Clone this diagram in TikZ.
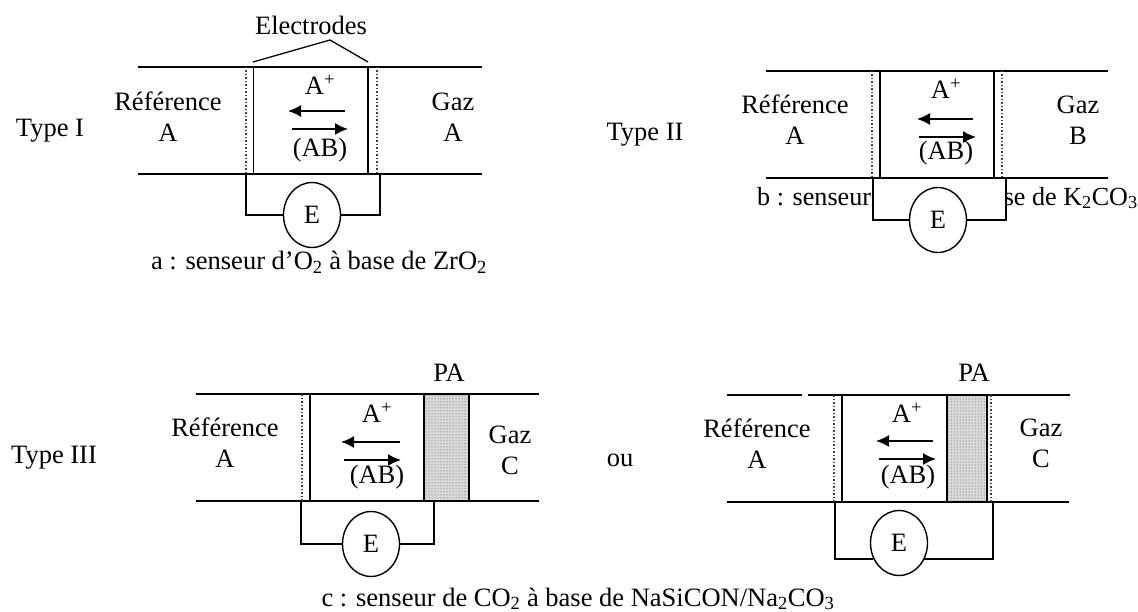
\documentclass[tikz,border=0pt]{standalone}
\usepackage{fontspec}
\setmainfont{Liberation Serif}
\usetikzlibrary{arrows.meta,patterns,shapes.geometric}
\newcommand{\ionlabel}{A\textsuperscript{+}}
\tikzset{
 x=1pt,y=-1pt,
 txt/.style={inner sep=0pt,font=\fontsize{26.5}{31}\selectfont,align=center},
 rail/.style={line width=1.5pt},
 elec/.style={line width=1.5pt},
 elecb/.style={line width=2pt},
 dots/.style={line width=1.5pt,dotted,line cap=butt,black!75},
 wire/.style={line width=1.5pt},
 meter/.style={draw,line width=1.4pt,fill=white,ellipse,minimum width=57pt,minimum height=65pt,inner sep=0pt,font=\fontsize{26.5}{31}\selectfont},
 flow/.style={line width=1.5pt,-{Latex[length=13pt,width=12pt]}},
 layerfill/.style={fill=black!14},
 layerdots/.style={pattern=dots,pattern color=black!80},
 layerline/.style={draw=black,line width=1.6pt},
}
\begin{document}
\begin{tikzpicture}
\useasboundingbox (0,0) rectangle (1138,612);
\fill[white] (0,0) rectangle (1138,612);
% a
\coordinate (a1) at (138,67);\coordinate (a2) at (482,67);\coordinate (a3) at (138,174);\coordinate (a4) at (482,174);
\draw[rail] (a1)--(a2);\draw[rail] (a3)--(a4);
\coordinate (ae1t) at (253.5,67);\coordinate (ae1b) at (253.5,174);\coordinate (ae2t) at (368,67);\coordinate (ae2b) at (368,174);
\draw[elec] (ae1t)--(ae1b);\draw[elecb] (ae2t)--(ae2b);
\draw[dots] (246,67)--(246,174);\draw[dots] (377,67)--(377,174);
\node[txt] (aelec) at (311,25) {Electrodes};
\coordinate (ap1) at (253,62);\coordinate (ap2) at (330,40);\coordinate (ap3) at (368,62);
\draw[line width=1.3pt] (ap1)--(ap2)--(ap3);
\node[txt] (aref) at (168,117) {Référence\\A};
\node[txt] (agaz) at (453,117) {Gaz\\A};
\node[txt] (aion) at (320,85) {\ionlabel};
\coordinate (al1) at (345,111);\coordinate (al2) at (288,111);\coordinate (ar1) at (292,129);\coordinate (ar2) at (348,129);
\draw[flow] (al1)--(al2);\draw[flow] (ar1)--(ar2);
\node[txt] (aab) at (320,150) {(AB)};
\node[meter] (ae) at (312,215) {E};
\coordinate (aw1) at (246,174);\coordinate (aw2) at (380,174);
\draw[wire] (aw1)|-(ae.west);\draw[wire] (aw2)|-(ae.east);
\node[txt] (acap) at (319,262) {a : senseur d’O\textsubscript{2} à base de ZrO\textsubscript{2}};
\node[txt] (at1) at (50,131) {Type I};
% b
\coordinate (b1) at (766,71);\coordinate (b2) at (1108,71);\coordinate (b3) at (766,178);\coordinate (b4) at (1108,178);
\draw[rail] (b1)--(b2);\draw[rail] (b3)--(b4);
\draw[elec] (880,71)--(880,178);\draw[elecb] (994,71)--(994,178);
\draw[dots] (872,71)--(872,178);\draw[dots] (1002,71)--(1002,178);
\node[txt] (bref) at (795,120) {Référence\\A};
\node[txt] (bgaz) at (1078,120) {Gaz\\B};
\node[txt] (bion) at (946,89) {\ionlabel};
\draw[flow] (973,119)--(917,119);\draw[flow] (919,137)--(976,137);
\node[txt] (bab) at (946,153) {(AB)};
\node[txt,anchor=west,font=\fontsize{26.1}{31}\selectfont] (bcap) at (757,198) {b : senseur de CO\textsubscript{2} à base de K\textsubscript{2}CO\textsubscript{3}};
\fill[white] (873,179) rectangle (1006,221);
\node[meter] (be) at (938,220) {E};
\coordinate (bw1) at (873,178);\coordinate (bw2) at (1006,178);
\draw[wire] (bw1)|-(be.west);\draw[wire] (bw2)|-(be.east);
\node[txt] (bt) at (645,135) {Type II};
% c1
\draw[rail] (196,394)--(539,394);\draw[rail] (196,501)--(539,501);
\draw[elecb] (310,394)--(310,501);
\draw[layerfill] (424,394) rectangle (469,501);
\path[layerdots] (424,394) rectangle (469,501);
\draw[layerline] (424,394) rectangle (469,501);
\draw[line width=2.4pt] (310,501)--(424,501);
\draw[dots] (302,394)--(302,501);
\node[txt] (cref) at (225,443) {Référence\\A};
\node[txt] (cgaz) at (510,450) {Gaz\\C};
\node[txt] (cion) at (377,413) {\ionlabel};
\draw[flow] (400,442)--(341,442);\draw[flow] (344,460)--(401,460);
\node[txt] (cab) at (377,477) {(AB)};
\node[txt] (cpa) at (449,373) {PA};
\node[meter] (ce) at (371,544) {E};
\coordinate (cw1) at (301,501);\coordinate (cw2) at (434,501);
\draw[wire] (cw1)|-(ce.west);\draw[wire] (cw2)|-(ce.east);
\node[txt] (ct) at (54,458) {Type III};
\node[txt] (cou) at (620,460) {ou};
% c2
\draw[rail] (727,395)--(802,395);\draw[rail] (808,395)--(1070,395);\draw[rail] (727,502)--(1069,502);
\draw[elecb] (842,395)--(842,502);
\draw[layerfill] (947,395) rectangle (987,502);
\path[layerdots] (947,395) rectangle (987,502);
\draw[layerline] (947,395) rectangle (987,502);
\draw[dots] (834,395)--(834,502);\draw[dots] (991,395)--(991,502);
\node[txt] (dref) at (757,444) {Référence\\A};
\node[txt] (dgaz) at (1041,443) {Gaz\\C};
\node[txt] (dion) at (907,413) {\ionlabel};
\draw[flow] (933,441)--(876,441);\draw[flow] (879,459)--(936,459);
\node[txt] (dab) at (908,477) {(AB)};
\node[txt] (dpa) at (974,373) {PA};
\node[meter] (de) at (899,543) {E};
\coordinate (dw1) at (835,502);\coordinate (dw2) at (993,502);
\coordinate (dlow) at (de.212.8);
\draw[wire] (dw1)|-(dlow);
\draw[wire] (dw2)|-(de.327.2 |- dlow);
\node[txt] (dcap) at (578,599) {c : senseur de CO\textsubscript{2} à base de NaSiCON/Na\textsubscript{2}CO\textsubscript{3}};
\end{tikzpicture}
\end{document}
